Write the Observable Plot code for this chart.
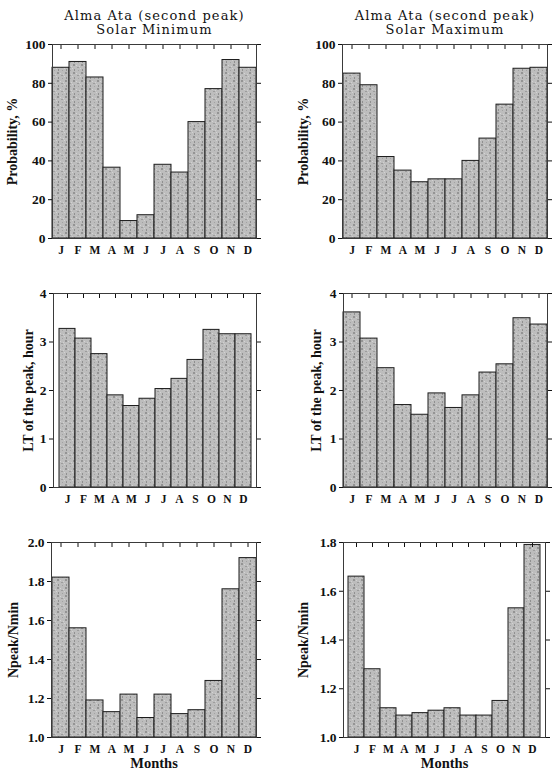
<!DOCTYPE html>
<html>
<head>
<meta charset="utf-8">
<script src="https://cdn.jsdelivr.net/npm/d3@7"></script>
<script src="https://cdn.jsdelivr.net/npm/@observablehq/plot@0.6"></script>
<style>
  body { margin: 0; background: #fff; }
  #fig { position: relative; width: 559px; height: 777px; background: #fff; overflow: hidden; }
  #fig > svg { position: absolute; }
</style>
</head>
<body>
<!-- stippled grey fill shared by all bars -->
<svg width="0" height="0" style="position:absolute">
  <defs>
    <pattern id="speckle" width="8" height="8" patternUnits="userSpaceOnUse">
      <rect width="8" height="8" fill="#bdbdbd"/>
      <rect x="1" y="0" width="2" height="2" fill="#949494"/>
      <rect x="5" y="3" width="2" height="1" fill="#9c9c9c"/>
      <rect x="2" y="5" width="1" height="2" fill="#909090"/>
      <rect x="6" y="6" width="1" height="1" fill="#a2a2a2"/>
      <rect x="4" y="1" width="1" height="1" fill="#d4d4d4"/>
      <rect x="0" y="4" width="1" height="1" fill="#d2d2d2"/>
      <rect x="7" y="2" width="1" height="1" fill="#d0d0d0"/>
    </pattern>
  </defs>
</svg>
<div id="fig"></div>
<script>
// Months along the x axis (keys must be unique for the band scale)
const monthKeys = ["Jan","Feb","Mar","Apr","May","Jun","Jul","Aug","Sep","Oct","Nov","Dec"];
const monthLetters = ["J","F","M","A","M","J","J","A","S","O","N","D"];

// Probability of the second peak, %
const probSolarMin = [88, 91, 83, 36.5, 9, 12, 38, 34, 60, 77, 92, 88];
const probSolarMax = [85, 79, 42, 35, 29, 30.5, 30.5, 40, 51.5, 69, 87.5, 88];

// Local time of the peak, hour
const ltSolarMin = [3.27, 3.07, 2.75, 1.90, 1.68, 1.83, 2.03, 2.24, 2.63, 3.25, 3.16, 3.16];
const ltSolarMax = [3.61, 3.07, 2.46, 1.70, 1.50, 1.94, 1.64, 1.90, 2.37, 2.54, 3.49, 3.36];

// Peak-to-minimum density ratio
const ratioSolarMin = [1.82, 1.56, 1.19, 1.13, 1.22, 1.10, 1.22, 1.12, 1.14, 1.29, 1.76, 1.92];
const ratioSolarMax = [1.66, 1.28, 1.12, 1.09, 1.10, 1.11, 1.12, 1.09, 1.09, 1.15, 1.53, 1.79];

// Axis ticks
const probTicks = [0, 20, 40, 60, 80, 100];
const ltTicks = [0, 1, 2, 3, 4];
const ratioMinTicks = [1.0, 1.2, 1.4, 1.6, 1.8, 2.0];
const ratioMaxTicks = [1.0, 1.2, 1.4, 1.6, 1.8];

const titleLine1 = "Alma Ata (second peak)";
const titleMin = "Solar Minimum";
const titleMax = "Solar Maximum";

const serif = "Liberation Serif";
const titleFont = "DejaVu Serif";
const letterOf = Object.fromEntries(monthKeys.map((k, i) => [k, monthLetters[i]]));

function panel(o) {
  const rows = o.values.map((v, i) => ({month: monthKeys[i], v}));
  const marks = [
    Plot.barY(rows, {x: "month", y1: o.domain[0], y2: "v", fill: "url(#speckle)", stroke: "#1c1c1c", strokeWidth: 1}),
    Plot.frame({stroke: "#3a3a3a", strokeWidth: 1}),
    Plot.axisY({anchor: "left", ticks: o.ticks, tickSize: 4, tickPadding: 3, tickFormat: o.fmt,
                fontSize: 13.5, fontWeight: "bold", fontFamily: serif, label: null}),
    Plot.axisY({anchor: "right", ticks: o.ticks, tickSize: 4, tickFormat: () => "", label: null}),
    Plot.axisX({anchor: "top", tickSize: 4, dy: 4, tickFormat: () => "", label: null}),
    Plot.axisX({anchor: "bottom", tickSize: 0, tickPadding: 7, tickFormat: d => letterOf[d],
                fontSize: 11.5, fontWeight: "bold", fontFamily: serif, label: null}),
    Plot.text([o.label], {frameAnchor: "left", rotate: -90, dx: o.labelDx, textAnchor: "middle",
                          lineAnchor: "middle", fontSize: 14, fontWeight: "bold", fontFamily: serif})
  ];
  if (o.title) {
    marks.push(Plot.text([titleLine1], {frameAnchor: "top", dy: -29, lineAnchor: "middle",
                                        fontSize: 13, fontFamily: titleFont}));
    marks.push(Plot.text([o.title], {frameAnchor: "top", dy: -15, lineAnchor: "middle",
                                     fontSize: 13, fontFamily: titleFont}));
  }
  if (o.xlabel) {
    marks.push(Plot.text([o.xlabel], {frameAnchor: "bottom", dy: 26, lineAnchor: "middle",
                                      fontSize: 14.5, fontWeight: "bold", fontFamily: serif}));
  }
  const svg = Plot.plot({
    width: o.width, height: o.height,
    marginLeft: o.m[0], marginRight: o.m[1], marginTop: o.m[2], marginBottom: o.m[3],
    x: {type: "band", domain: monthKeys, padding: 0},
    y: {domain: o.domain},
    style: {background: "transparent", color: "#111"},
    marks
  });
  // widen the tracking of the two-line panel heading
  d3.select(svg).selectAll("text")
    .filter(function () { return [titleLine1, titleMin, titleMax].includes(this.textContent); })
    .attr("letter-spacing", "1.1px");
  svg.style.left = o.left + "px";
  svg.style.top = o.top + "px";
  document.getElementById("fig").appendChild(svg);
}

const f0 = d3.format("d");
const f1 = d3.format(".1f");

panel({values: probSolarMin, domain: [0, 100], ticks: probTicks, fmt: f0, label: "Probability, %",
       labelDx: -40, title: titleMin, left: 0, top: 0, width: 280, height: 260, m: [52, 24, 44, 22]});
panel({values: probSolarMax, domain: [0, 100], ticks: probTicks, fmt: f0, label: "Probability, %",
       labelDx: -39, title: titleMax, left: 280, top: 0, width: 279, height: 260, m: [62, 12, 44, 22]});
panel({values: ltSolarMin, domain: [0, 4], ticks: ltTicks, fmt: f0, label: "LT of the peak, hour",
       labelDx: -25, left: 0, top: 260, width: 280, height: 255, m: [53, 24, 33, 28]});
panel({values: ltSolarMax, domain: [0, 4], ticks: ltTicks, fmt: f0, label: "LT of the peak, hour",
       labelDx: -27, left: 280, top: 260, width: 279, height: 255, m: [63, 12, 33, 28]});
panel({values: ratioSolarMin, domain: [1, 2], ticks: ratioMinTicks, fmt: f1, label: "Npeak/Nmin",
       labelDx: -38, xlabel: "Months", left: 0, top: 515, width: 280, height: 262, m: [51, 24, 27, 40]});
panel({values: ratioSolarMax, domain: [1, 1.8], ticks: ratioMaxTicks, fmt: f1, label: "Npeak/Nmin",
       labelDx: -40, xlabel: "Months", left: 280, top: 515, width: 279, height: 262, m: [63, 14, 27, 40]});
</script>
</body>
</html>
